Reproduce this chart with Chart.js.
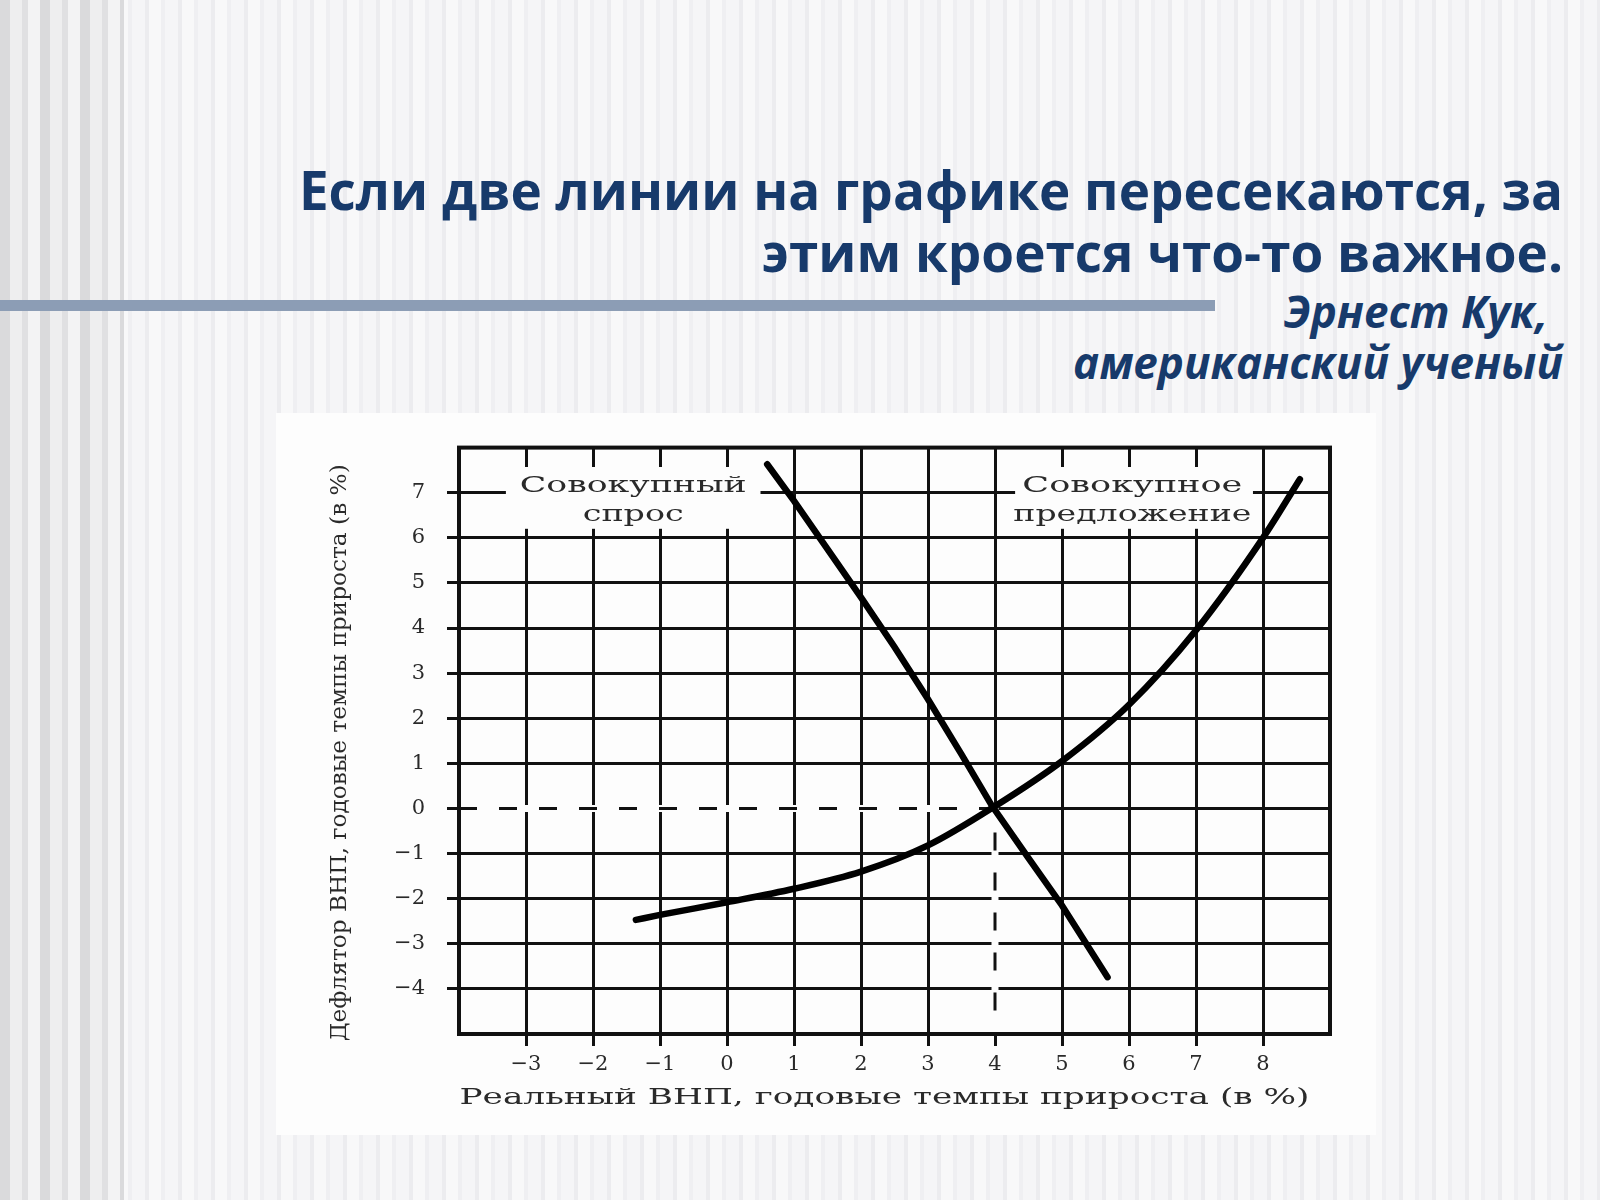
<!DOCTYPE html>
<html lang="ru">
<head>
<meta charset="utf-8">
<title>Совокупный спрос и совокупное предложение</title>
<script src="https://cdn.jsdelivr.net/npm/chart.js@4.4.1/dist/chart.umd.min.js"></script>
<style>
  html, body { margin: 0; padding: 0; }
  body {
    width: 1600px; height: 1200px; position: relative; overflow: hidden;
    font-family: "Open Sans", "Noto Sans", sans-serif;
    background: repeating-linear-gradient(90deg,
      #f5f5f7 0px, #f5f5f7 13px, #ececef 13px, #ececef 17px,
      #f8f8f9 17px, #f8f8f9 29px, #efeff2 29px, #efeff2 33px);
  }
  .leftband {
    position: absolute; left: 0; top: 0; width: 124px; height: 1200px;
    background: repeating-linear-gradient(90deg,
      #dadadc 0px, #dadadc 10px, #eeeeef 10px, #eeeeef 22px,
      #e0e0e2 22px, #e0e0e2 28px, #f3f3f4 28px, #f3f3f4 40px);
  }
  .title {
    position: absolute; right: 37px; top: 159px; text-align: right;
    color: #173a6b; font-weight: 700; font-size: 53px; line-height: 62px;
    white-space: nowrap;
  }
  .bar {
    position: absolute; left: 0; top: 300px; width: 1215px; height: 11px;
    background: #8c9db5;
  }
  .author {
    position: absolute; right: 37px; top: 286px; text-align: right;
    color: #173a6b; font-weight: 700; font-style: italic; font-size: 44px; line-height: 51px;
    white-space: nowrap;
  }
  .author .first { padding-right: 15px; }
  .panel {
    position: absolute; left: 276px; top: 413px; width: 1100px; height: 722px;
    background: #fdfdfd;
  }
</style>
</head>
<body>
<div class="leftband"></div>
<div class="title">Если две линии на графике пересекаются, за<br>этим кроется что-то важное.</div>
<div class="bar"></div>
<div class="author"><span class="first">Эрнест Кук,</span><br>американский ученый</div>
<div class="panel"><canvas id="chart"></canvas></div>

<script>
// оси
const xTicks = [-3, -2, -1, 0, 1, 2, 3, 4, 5, 6, 7, 8];
const yTicks = [-4, -3, -2, -1, 0, 1, 2, 3, 4, 5, 6, 7];
const xRange = [-4, 9];
const yRange = [-5, 8];

// совокупный спрос
const demandX = [0.6, 1.0, 1.5, 2.0, 2.5, 3.0, 3.5, 3.95, 4.5, 5.0, 5.68];
const demandY = [7.63, 6.82, 5.75, 4.68, 3.58, 2.42, 1.2, 0.07, -1.1, -2.15, -3.74];

// совокупное предложение
const supplyX = [-1.36, -1, 0, 1, 2, 3, 4, 5, 6, 7, 8, 8.55];
const supplyY = [-2.47, -2.36, -2.08, -1.78, -1.4, -0.82, 0.05, 1.05, 2.3, 3.95, 6.0, 7.3];

// точка равновесия
const equilibrium = [4, 0];

const demandLabel = ['Совокупный', 'спрос'];
const supplyLabel = ['Совокупное', 'предложение'];
const xTitle = 'Реальный ВНП, годовые темпы прироста (в %)';
const yTitle = 'Дефлятор ВНП, годовые темпы прироста (в %)';

const serif = '"DejaVu Serif", "Liberation Serif", serif';
const ink = '#111';

function points(xs, ys) {
  return xs.map((x, i) => ({ x: x, y: ys[i] }));
}

// equilibrium guides: from the y-axis to the point, then down to the x-axis
const guide = [
  { x: xRange[0], y: equilibrium[1] },
  { x: equilibrium[0], y: equilibrium[1] },
  { x: equilibrium[0], y: yRange[0] }
];

// text squeezed/stretched to a given width (the scan is wide)
function wideText(ctx, text, cx, cy, width) {
  const w = ctx.measureText(text).width;
  ctx.save();
  ctx.translate(cx, cy);
  ctx.scale(width / w, 1);
  ctx.textAlign = 'center';
  ctx.textBaseline = 'middle';
  ctx.fillText(text, 0, 0);
  ctx.restore();
}

// white boxes with the curve names, over the grid
const labelBoxes = {
  id: 'labelBoxes',
  beforeDatasetsDraw(chart) {
    const { ctx, scales: { x, y } } = chart;
    const boxes = [
      { x0: -3.3, x1: 0.5, cx: -1.4, lines: demandLabel, widths: [227, 101] },
      { x0: 4.3, x1: 7.85, cx: 6.05, lines: supplyLabel, widths: [220, 238] }
    ];
    ctx.save();
    boxes.forEach(b => {
      const left = x.getPixelForValue(b.x0);
      const right = x.getPixelForValue(b.x1);
      const top = y.getPixelForValue(7.57);
      const bottom = y.getPixelForValue(6.2);
      ctx.fillStyle = '#fdfdfd';
      ctx.fillRect(left, top, right - left, bottom - top);
      ctx.fillStyle = '#2a2a2a';
      ctx.font = '23px ' + serif;
      wideText(ctx, b.lines[0], x.getPixelForValue(b.cx), y.getPixelForValue(7.15), b.widths[0]);
      wideText(ctx, b.lines[1], x.getPixelForValue(b.cx), y.getPixelForValue(6.5), b.widths[1]);
    });
    ctx.restore();
  }
};

// closed frame round the plot + axis titles
const frameAndTitles = {
  id: 'frameAndTitles',
  afterDatasetsDraw(chart) {
    const { ctx, chartArea: a } = chart;
    ctx.save();
    ctx.strokeStyle = ink;
    ctx.lineWidth = 4;
    ctx.strokeRect(a.left, a.top, a.right - a.left, a.bottom - a.top);
    ctx.restore();
  },
  afterDraw(chart) {
    const { ctx, chartArea: a } = chart;
    ctx.save();
    ctx.fillStyle = '#2a2a2a';
    ctx.font = '22px ' + serif;
    wideText(ctx, xTitle, (a.left + a.right) / 2 - 10, a.bottom + 64, 850);
    ctx.translate(a.left - 119, (a.top + a.bottom) / 2 + 12);
    ctx.rotate(-Math.PI / 2);
    wideText(ctx, yTitle, 0, 0, 577);
    ctx.restore();
  }
};

function tickText(v) {
  return v < 0 ? '\u2212' + Math.abs(v) : String(v);
}

const gridStyle = {
  color: ink, lineWidth: 3,
  drawTicks: true, tickLength: 12, tickWidth: 3, tickColor: ink
};

new Chart(document.getElementById('chart'), {
  type: 'line',
  data: {
    datasets: [
      {
        label: 'Совокупный спрос',
        data: points(demandX, demandY),
        borderColor: '#000', borderWidth: 6.5, borderCapStyle: 'round',
        pointRadius: 0, tension: 0
      },
      {
        label: 'Совокупное предложение',
        data: points(supplyX, supplyY),
        borderColor: '#000', borderWidth: 6.5, borderCapStyle: 'round',
        pointRadius: 0, cubicInterpolationMode: 'monotone'
      },
      {
        label: 'guide',
        data: guide,
        borderColor: ink, borderWidth: 3, borderDash: [18, 22],
        pointRadius: 0, tension: 0
      },
      {
        label: 'guide-mask',
        data: guide,
        borderColor: '#fdfdfd', borderWidth: 7,
        pointRadius: 0, tension: 0
      }
    ]
  },
  options: {
    responsive: true,
    maintainAspectRatio: false,
    animation: false,
    layout: { padding: { top: 34, right: 46, left: 0, bottom: 0 } },
    plugins: {
      legend: { display: false },
      tooltip: { enabled: false }
    },
    scales: {
      x: {
        type: 'linear',
        min: xRange[0], max: xRange[1],
        afterBuildTicks: s => { s.ticks = xTicks.map(v => ({ value: v })); },
        afterFit: s => { s.height = 101; },
        grid: gridStyle,
        border: { display: true, color: ink, width: 3 },
        ticks: {
          autoSkip: false, maxRotation: 0, padding: 6,
          color: '#2a2a2a', font: { family: serif, size: 21 },
          callback: v => tickText(v)
        }
      },
      y: {
        type: 'linear',
        min: yRange[0], max: yRange[1],
        afterBuildTicks: s => { s.ticks = yTicks.map(v => ({ value: v })); },
        afterFit: s => { s.width = 183; },
        grid: gridStyle,
        border: { display: true, color: ink, width: 3 },
        ticks: {
          autoSkip: false, padding: 22,
          color: '#2a2a2a', font: { family: serif, size: 21 },
          callback: v => tickText(v)
        }
      }
    }
  },
  plugins: [labelBoxes, frameAndTitles]
});
</script>
</body>
</html>
